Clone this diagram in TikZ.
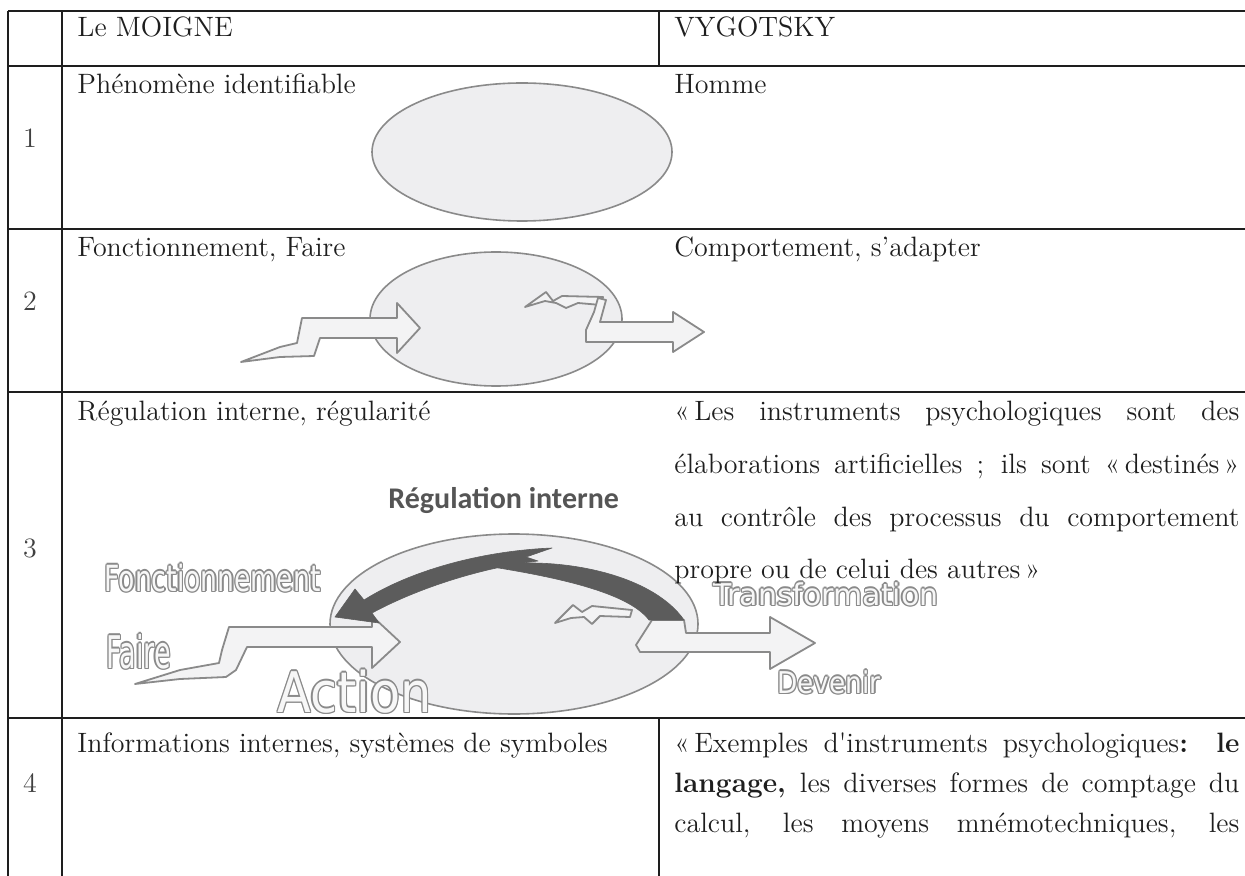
\documentclass[tikz,border=0pt]{standalone}
\usepackage{fontspec}
\usepackage{graphicx}
\usepackage{tikz}
\usetikzlibrary{calc}
\newfontfamily\carlito{Carlito}
\newfontfamily\dejavu{DejaVu Sans}
\definecolor{ink}{HTML}{1E1E1E}
\definecolor{rim}{HTML}{8A8A8A}
\definecolor{paleface}{HTML}{EEEEF0}
\definecolor{darkarc}{HTML}{5C5C5C}
\definecolor{regink}{HTML}{555555}
\newcommand{\cellfont}{\fontsize{14}{17}\selectfont}
\newcommand{\jline}[1]{\makebox[282.5pt][s]{#1}}
% hollow word: name, position, size, x-scale, word
\newcommand{\hollow}[5]{%
  \foreach \ox/\oy in {1.4/0,-1.4/0,0/1.4,0/-1.4,1/1,-1/1,1/-1,-1/-1}
    \node[hollowtxt, text=rim] at ($(#2)+(\ox,\oy)$) {\fontsize{#3}{#3}\selectfont\scalebox{#4}[1]{#5}};
  \node[hollowtxt, text=white!94!gray] (#1) at (#2) {\fontsize{#3}{#3}\selectfont\scalebox{#4}[1]{#5}};
}

\begin{document}
\begin{tikzpicture}[x=0.5pt, y=-0.5pt,
    grid/.style={line width=1pt, draw=ink},
    cell/.style={anchor=base west, inner sep=0pt, font=\cellfont, text=ink},
    num/.style={anchor=base, inner sep=0pt, font=\cellfont, text=ink!85},
    blob/.style={fill=paleface, draw=rim, line width=0.8pt},
    ribbon/.style={fill=paleface!70!white, draw=rim, line width=0.9pt, line join=round},
    darkband/.style={fill=darkarc, draw=darkarc, line width=0.3pt, line join=round},
    regtext/.style={anchor=base west, inner sep=0pt, font=\carlito\bfseries\fontsize{15}{15}\selectfont, text=regink},
    hollowtxt/.style={anchor=base west, inner sep=0pt, font=\dejavu}]
  \useasboundingbox (0,0) rectangle (1245,876);
  % table rules
  \foreach \ry in {11,66,229,392,718}
    \draw[grid] (8,\ry) -- (1245,\ry);
  \draw[grid] (8,11) -- (8,876);
  \draw[grid] (62,11) -- (62,876);
  \draw[grid] (659,11) -- (659,66);
  \draw[grid] (659,718) -- (659,876);

  % row 1: the phenomenon
  \draw[blob] (522,152) ellipse [x radius=75pt, y radius=34.5pt];

  % row 2: functioning
  \draw[blob] (496,319) ellipse [x radius=63pt, y radius=33.5pt];
  \draw[ribbon] (241,362) -- (280,357) -- (314,356) -- (320,338) -- (397,338) -- (397,353)
    -- (420,328) -- (397,303) -- (397,318) -- (302,318) -- (297,343) -- (280,347) -- cycle;
  \draw[ribbon] (525,307) -- (546,292) -- (553,301) -- (562,296) -- (603,297) -- (601,305)
    -- (578,303) -- (566,308) -- (556,303) -- (545,301) -- cycle;
  \draw[ribbon] (598,298) -- (606,300) -- (600,322) -- (673,322) -- (673,312) -- (704,332)
    -- (673,352) -- (673,342) -- (586,342) -- (586,330) -- (594,312) -- cycle;

  % row 3: internal regulation
  \hollow{fonct}{104,591}{18}{0.74}{Fonctionnement}
  \hollow{faire}{106,668}{22.5}{0.6}{Faire}
  \draw[blob] (514,624) ellipse [x radius=92pt, y radius=45pt];
  \draw[ribbon] (135,684) -- (180,679) -- (226,677) -- (236,670) -- (247,647) -- (372,647)
    -- (372,668) -- (400,642) -- (372,616) -- (372,627) -- (229,627) -- (222,650)
    -- (219,663) -- (180,670) -- cycle;
  \draw[ribbon] (555,623) -- (573,605) -- (582,612) -- (592,606) -- (632,610) -- (630,617)
    -- (600,616) -- (592,624) -- (584,617) -- (571,618) -- cycle;
  \draw[ribbon] (652,620) -- (684,620) -- (686,633) -- (770,633) -- (770,617) -- (815,643)
    -- (770,669) -- (770,652) -- (640,652) -- (636,645) -- cycle;
  \draw[darkband] (552,548) .. controls (480,551) and (410,571) .. (364,600) -- (355,589)
    -- (335,617) -- (379,623) -- (372,613) .. controls (420,587) and (485,567) .. (538,561)
    -- (526,557) -- cycle;
  \draw[darkband] (486,566) .. controls (560,555) and (652,574) .. (684,620) -- (649,620)
    .. controls (630,595) and (570,579) .. (486,566) -- cycle;
  \node[regtext] (regint) at (388,508) {Régulation interne};
  \hollow{action}{277,712}{28}{0.88}{Action}
  \hollow{transf}{713,605}{15}{1}{Transformation}
  \hollow{devenir}{777,693}{15}{0.88}{Devenir}

  % header row
  \node[cell] (hdrA) at (77,37) {Le MOIGNE};
  \node[cell] (hdrB) at (674,37) {VYGOTSKY};
  % row numbers
  \node[num] (n1) at (30,148) {1};
  \node[num] (n2) at (30,311) {2};
  \node[num] (n3) at (30,557) {3};
  \node[num] (n4) at (30,792) {4};
  % Le Moigne column
  \node[cell] (m1) at (77,94) {Phénomène identifiable};
  \node[cell] (m2) at (77,257) {Fonctionnement, Faire};
  \node[cell] (m3) at (77,421) {Régulation interne, régularité};
  \node[cell] (m4) at (77,752) {Informations internes, systèmes de symboles};
  % Vygotsky column
  \node[cell] (v1) at (674,94) {Homme};
  \node[cell] (v2) at (674,257) {Comportement, s’adapter};
  \node[cell] (v3a) at (674,421) {\jline{«\,Les instruments psychologiques sont des}};
  \node[cell] (v3b) at (674,473) {\jline{élaborations artificielles ; ils sont «\,destinés\,»}};
  \node[cell] (v3c) at (674,526) {\jline{au contrôle des processus du comportement}};
  \node[cell] (v3d) at (674,578) {propre ou de celui des autres\,»};
  \node[cell] (v4a) at (674,752) {\jline{«\,Exemples d\textquotesingle instruments psychologiques\textbf{: le}}};
  \node[cell] (v4b) at (674,792) {\jline{\textbf{langage,} les diverses formes de comptage du}};
  \node[cell] (v4c) at (674,832) {\jline{calcul, les moyens mnémotechniques, les}};
\end{tikzpicture}
\end{document}
